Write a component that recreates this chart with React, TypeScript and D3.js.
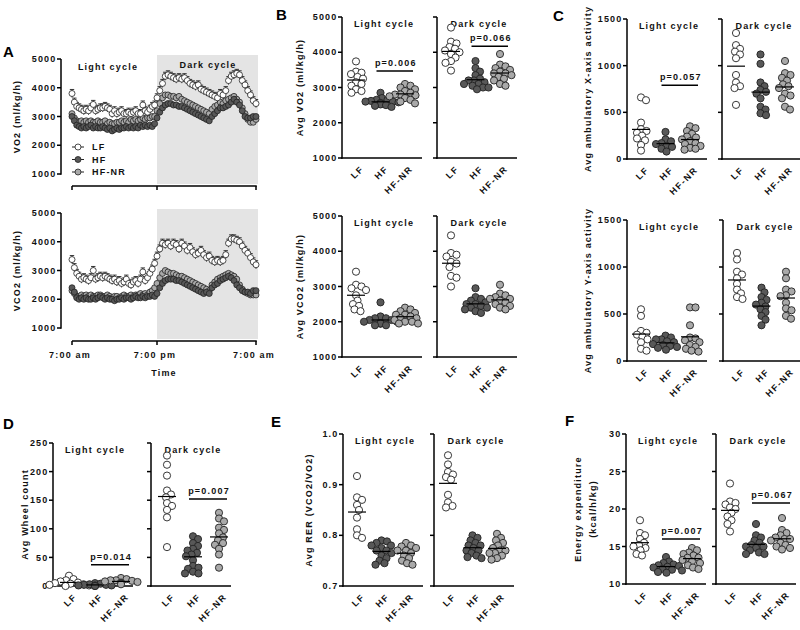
import React from "react";
import * as d3 from "d3";

const FONT = "'Liberation Sans', Arial, sans-serif";
const GROUPS = ["LF", "HF", "HF-NR"];
const FILL: Record<string, string> = { LF: "#ffffff", HF: "#585858", "HF-NR": "#a9a9a9" };
const CYCLES = ["Light cycle", "Dark cycle"];
const TIME_TICKS = ["7:00 am", "7:00 pm", "7:00 am"];
const TIME_TICK_IDX = [0, 36, 72];

// ---------- Panel A: time course (20-min bins) ----------
const VO2_TIME_LF = [3800,3500,3350,3300,3250,3200,3250,3200,3300,3420, 3200,3250,3300,3300,3350,3300,3250,3100,3200,3100, 3150,3200,3100,3100,3150,3100,3150,3200,3100,3100, 3400,3200,3150,3250,3350,3400,3650,3900,4150,4400, 4450,4400,4350,4300,4350,4300,4350,4250,4150,4100, 4050,4100,3950,3900,3850,3800,3750,3700,3650,3800, 3750,3900,4250,4400,4450,4500,4450,4250,4100,3900, 3750,3550,3450];
const VO2_TIME_HF = [3000,2850,2700,2650,2600,2650,2600,2650,2700,2600, 2650,2600,2600,2650,2600,2550,2600,2500,2550,2600, 2550,2600,2600,2650,2600,2650,2600,2650,2600,2700, 2650,2700,2650,2700,2650,2750,2950,3150,3300,3400, 3450,3450,3400,3400,3350,3350,3300,3250,3200,3150, 3100,3050,3000,2950,2900,2850,3000,3100,3200,3300, 3300,3350,3400,3500,3600,3500,3400,3200,3000,2950, 2950,3000,3000];
const VO2_TIME_HFNR = [3100,2950,2850,2800,2850,2800,2850,2800,2850,2800, 2800,2850,2800,2800,2850,2750,2800,2750,2750,2800, 2800,2850,2800,2850,2800,2900,2850,2900,2850,2900, 2950,2900,2950,2950,3000,3000,3200,3450,3650,3750, 3750,3700,3700,3650,3700,3600,3550,3500,3450,3400, 3350,3300,3250,3200,3150,3100,3250,3350,3400,3500, 3450,3550,3600,3650,3700,3600,3500,3300,3100,2900, 2800,2800,2900];
const VCO2_TIME_LF = [3380,3100,2900,2800,2700,2750,2700,2650,2750,3000, 2700,2750,2800,2750,2800,2750,2700,2650,2700,2600, 2650,2550,2600,2700,2550,2500,2600,2650,2550,2700, 2950,2650,2750,2900,3050,3250,3500,3750,3950,3900, 3950,3850,3950,3900,3750,3950,3850,3700,3800,3650, 3550,3600,3700,3550,3450,3500,3350,3300,3350,3300, 3350,3550,3950,4100,4100,4050,4000,3850,3700,3600, 3450,3300,3200];
const VCO2_TIME_HF = [2400,2250,2050,2000,2050,2000,2050,2000,2000,2050, 2000,2050,2100,2050,2000,2050,2000,2000,1950,2000, 2000,2050,2000,2050,2050,2000,2050,2100,2050,2050, 2100,2050,2100,2100,2150,2100,2200,2400,2550,2650, 2700,2700,2700,2650,2650,2600,2550,2500,2450,2400, 2350,2300,2250,2200,2250,2200,2400,2500,2550,2650, 2700,2750,2800,2750,2650,2500,2400,2300,2250,2250, 2200,2300,2300];
const VCO2_TIME_HFNR = [2300,2200,2100,2100,2150,2100,2150,2100,2150,2100, 2100,2150,2150,2100,2100,2150,2100,2050,2100,2100, 2050,2100,2150,2100,2100,2150,2100,2150,2150,2200, 2150,2200,2150,2250,2300,2400,2550,2750,2900,3000, 2950,2900,2900,2850,2800,2800,2750,2700,2650,2600, 2550,2500,2450,2400,2350,2300,2500,2600,2700,2750, 2800,2850,2900,2850,2800,2700,2500,2350,2250,2200, 2150,2150,2150];
const LF_SEM_VO2 = 140;
const LF_SEM_VCO2 = 140;

// ---------- Panels B-F: individual animals ----------
const VO2_LIGHT: Record<string, number[]> = { LF: [3740,3450,3420,3380,3300,3250,3150,3100,3050,2950,2900,2850], HF: [2850,2700,2650,2620,2600,2600,2560,2550,2520,2500,2480,2450,2650,2580], "HF-NR": [3100,3050,3000,2950,2850,2800,2780,2750,2700,2650,2600,2550,2800,2900] };
const VO2_DARK: Record<string, number[]> = { LF: [4700,4300,4250,4150,4100,4050,4000,3950,3850,3750,3700,3480], HF: [3750,3550,3450,3350,3250,3200,3150,3100,3050,3000,3000,2950,3100,3200], "HF-NR": [3950,3650,3600,3550,3500,3450,3400,3350,3300,3250,3200,3100,3050,3400] };
const VCO2_LIGHT: Record<string, number[]> = { LF: [3420,3050,3000,2950,2900,2750,2600,2500,2450,2350,2300], HF: [2550,2150,2100,2050,2000,2000,1950,1950,1900,1900,2100,2050,1950], "HF-NR": [2400,2350,2300,2250,2200,2150,2100,2050,2000,2000,1950,1950,2100,2200] };
const VCO2_DARK: Record<string, number[]> = { LF: [4450,3950,3900,3850,3700,3650,3550,3300,3250,3000], HF: [2950,2700,2650,2550,2500,2450,2400,2400,2350,2300,2250,2500,2600], "HF-NR": [3050,2800,2750,2700,2650,2600,2550,2500,2450,2400,2350,2650] };
const XACT_LIGHT: Record<string, number[]> = { LF: [660,630,390,320,300,280,250,220,200,150,90], HF: [290,210,190,170,160,140,130,110,80], "HF-NR": [350,330,300,270,240,210,190,170,160,140,120,110,100,230] };
const XACT_DARK: Record<string, number[]> = { LF: [1350,1220,1180,1150,1120,1080,900,820,780,760,580], HF: [1120,1020,820,780,740,720,700,650,560,530,490,470], "HF-NR": [1050,920,900,870,840,800,780,760,700,680,650,560,530] };
const YACT_LIGHT: Record<string, number[]> = { LF: [550,480,320,300,280,260,230,200,130,110], HF: [270,250,230,210,200,180,170,160,150,140,120,230], "HF-NR": [570,570,380,250,240,220,200,170,150,130,110,100] };
const YACT_DARK: Record<string, number[]> = { LF: [1150,1080,950,920,880,820,760,720,680,660], HF: [780,730,680,650,620,600,580,550,520,480,440,380], "HF-NR": [950,880,760,740,700,690,620,560,540,480,450] };
const WHEEL_LIGHT: Record<string, number[]> = { LF: [18,12,10,8,6,5,4,3,2,1,0], HF: [5,4,3,2,2,1,1,0,0,1], "HF-NR": [14,12,10,9,8,7,6,5,4,3,10] };
const WHEEL_DARK: Record<string, number[]> = { LF: [228,212,193,167,160,155,145,140,133,120,68], HF: [87,82,75,70,65,62,58,55,52,45,35,32,30,25,22,22], "HF-NR": [128,118,113,102,98,92,85,80,75,72,65,55,32] };
const RER_LIGHT: Record<string, number[]> = { LF: [0.917,0.875,0.87,0.86,0.85,0.835,0.812,0.8,0.795], HF: [0.79,0.788,0.785,0.78,0.775,0.77,0.765,0.76,0.755,0.75,0.745,0.742,0.78,0.77], "HF-NR": [0.785,0.78,0.778,0.775,0.77,0.765,0.76,0.755,0.75,0.745,0.742,0.77] };
const RER_DARK: Record<string, number[]> = { LF: [0.958,0.94,0.925,0.92,0.915,0.91,0.88,0.865,0.858,0.855], HF: [0.8,0.795,0.79,0.785,0.78,0.775,0.77,0.765,0.76,0.757,0.755,0.77,0.78], "HF-NR": [0.803,0.795,0.79,0.785,0.78,0.775,0.77,0.765,0.76,0.755,0.752,0.77,0.765] };
const EE_LIGHT: Record<string, number[]> = { LF: [18.5,16.8,16.5,16.0,15.5,15.2,15.0,14.8,14.5,14.0,13.8], HF: [13.6,13.0,12.8,12.6,12.4,12.3,12.2,12.0,11.9,11.8,11.6,11.5,12.5], "HF-NR": [14.8,14.5,14.0,13.8,13.5,13.2,13.0,12.8,12.5,12.2,12.0,13.5,14.2] };
const EE_DARK: Record<string, number[]> = { LF: [23.4,21.0,20.8,20.6,20.2,20.0,19.5,19.0,18.5,18.0,17.0], HF: [18.0,16.5,16.2,15.8,15.5,15.2,15.0,14.8,14.5,14.2,14.0,14.0,15.0], "HF-NR": [18.8,17.2,16.8,16.5,16.2,16.0,15.8,15.5,15.2,15.0,14.8,14.6,16.0] };

const T = (props: any) => (
  <text fontFamily={FONT} fontWeight="bold" fontSize={9} letterSpacing={1.2} fill="#111" {...props} />
);

function swarm(values: number[], y: (v: number) => number, cx: number, minD: number) {
  const placed: { x: number; y: number }[] = [];
  const sorted = [...values].sort((a, b) => b - a);
  for (const v of sorted) {
    const py = y(v);
    let off = 0;
    for (let k = 0; k < 80; k++) {
      const cand = k === 0 ? 0 : (k % 2 === 1 ? 1 : -1) * Math.ceil(k / 2) * 0.5;
      const ok = placed.every((p) => (p.x - (cx + cand)) ** 2 + (p.y - py) ** 2 >= minD * minD);
      if (ok) { off = cand; break; }
    }
    placed.push({ x: cx + off, y: py });
  }
  return placed;
}

type PSpec = { text: string; v: number } | null;
type PanelCfg = {
  light: number; dark: number; yTop: number; yBot: number;
  domain: [number, number]; ticks: number[]; fmt: (v: number) => string;
  data: [Record<string, number[]>, Record<string, number[]>];
  p?: [PSpec, PSpec];
  label: string[]; labelX: number[];
  letter?: { t: string; x: number; y: number };
  cat?: [number, number];
};

const fmtInt = d3.format("d");
const PANELS: PanelCfg[] = [
  { light: 342, dark: 437, yTop: 17, yBot: 158, domain: [1000, 5000], ticks: [1000, 2000, 3000, 4000, 5000], fmt: fmtInt,
    data: [VO2_LIGHT, VO2_DARK], p: [{ text: "p=0.006", v: 3470 }, { text: "p=0.066", v: 4170 }],
    label: ["Avg VO2 (ml/kg/h)"], labelX: [303], letter: { t: "B", x: 276, y: 20 } },
  { light: 342, dark: 437, yTop: 216, yBot: 357, domain: [1000, 5000], ticks: [1000, 2000, 3000, 4000, 5000], fmt: fmtInt,
    data: [VCO2_LIGHT, VCO2_DARK], label: ["Avg VCO2 (ml/kg/h)"], labelX: [303] },
  { light: 627, dark: 722, yTop: 19, yBot: 159, domain: [0, 1500], ticks: [0, 500, 1000, 1500], fmt: fmtInt,
    data: [XACT_LIGHT, XACT_DARK], p: [{ text: "p=0.057", v: 790 }, null],
    label: ["Avg ambulatory X-axis activity"], labelX: [591], letter: { t: "C", x: 553, y: 21 } },
  { light: 627, dark: 723, yTop: 220, yBot: 361, domain: [0, 1500], ticks: [0, 500, 1000, 1500], fmt: fmtInt,
    data: [YACT_LIGHT, YACT_DARK], label: ["Avg ambulatory Y-axis activity"], labelX: [591] },
  { light: 53, dark: 151, yTop: 443, yBot: 586, domain: [0, 250], ticks: [0, 50, 100, 150, 200, 250], fmt: fmtInt,
    data: [WHEEL_LIGHT, WHEEL_DARK], p: [{ text: "p=0.014", v: 37 }, { text: "p=0.007", v: 152 }],
    label: ["Avg Wheel count"], labelX: [28], letter: { t: "D", x: 3, y: 429 }, cat: [16, 68] },
  { light: 343, dark: 434, yTop: 434, yBot: 586, domain: [0.7, 1.0], ticks: [0.7, 0.8, 0.9, 1.0], fmt: d3.format(".1f"),
    data: [RER_LIGHT, RER_DARK], label: ["Avg RER (VCO2/VO2)"], labelX: [312], letter: { t: "E", x: 271, y: 427 } },
  { light: 626, dark: 716, yTop: 434, yBot: 584, domain: [10, 30], ticks: [10, 15, 20, 25, 30], fmt: fmtInt,
    data: [EE_LIGHT, EE_DARK], p: [{ text: "p=0.007", v: 16.0 }, { text: "p=0.067", v: 20.8 }],
    label: ["Energy expenditure", "(kcal/h/kg)"], labelX: [581, 596], letter: { t: "F", x: 565, y: 426 }, cat: [14, 66] },
];

function ScatterPanel({ cfg }: { cfg: PanelCfg }) {
  const y = d3.scaleLinear().domain(cfg.domain).range([cfg.yBot, cfg.yTop]);
  const [c0, c1] = cfg.cat ?? [14, 63];
  const baseY = cfg.yBot;
  const subs = [
    { ax: cfg.light, data: cfg.data[0], p: cfg.p ? cfg.p[0] : null, title: CYCLES[0], labels: true },
    { ax: cfg.dark, data: cfg.data[1], p: cfg.p ? cfg.p[1] : null, title: CYCLES[1], labels: false },
  ];
  const midY = (cfg.yTop + cfg.yBot) / 2;
  return (
    <g>
      {subs.map((s, si) => {
        const x = d3.scalePoint<string>().domain(GROUPS).range([s.ax + c0, s.ax + c1]);
        return (
          <g key={si}>
            <line x1={s.ax} x2={s.ax} y1={y(cfg.domain[1])} y2={baseY + 0.75} stroke="#000" strokeWidth={1.5} />
            {cfg.ticks.map((t) => (
              <g key={t}>
                <line x1={s.ax - 4} x2={s.ax} y1={y(t)} y2={y(t)} stroke="#000" strokeWidth={1.5} />
                {s.labels && (
                  <T x={s.ax - 4.5} y={y(t)} dy="0.35em" textAnchor="end">{cfg.fmt(t)}</T>
                )}
              </g>
            ))}
            <line x1={s.ax - 0.75} x2={s.ax + 80} y1={baseY} y2={baseY} stroke="#000" strokeWidth={1.5} />
            <T x={s.ax + 42} y={cfg.yTop + 10} textAnchor="middle">{s.title}</T>
            {GROUPS.map((g) => {
              const cx = x(g) as number;
              const pts = swarm(s.data[g], y, cx, 5.4);
              const m = d3.mean(s.data[g]) as number;
              return (
                <g key={g}>
                  {pts.map((p, i) => (
                    <circle key={i} cx={p.x} cy={p.y} r={3.6} fill={FILL[g]} stroke="#222" strokeWidth={0.9} />
                  ))}
                  <line x1={cx - 9} x2={cx + 9} y1={y(m)} y2={y(m)} stroke="#000" strokeWidth={1.2} />
                </g>
              );
            })}
            {s.p && (
              <g>
                <line x1={(x("HF") as number) - 4} x2={(x("HF-NR") as number) + 8} y1={y(s.p.v)} y2={y(s.p.v)} stroke="#000" strokeWidth={1.5} />
                <T x={((x("HF") as number) + (x("HF-NR") as number)) / 2 + 3} y={y(s.p.v) - 5} textAnchor="middle">{s.p.text}</T>
              </g>
            )}
            {GROUPS.map((g) => (
              <g key={"l" + g} transform={`translate(${(x(g) as number) + 4},${baseY + 7})`}>
                <g transform="rotate(-45)">
                  <T x={0} y={0} textAnchor="end" dy="0.7em" letterSpacing={1.5}>{g}</T>
                </g>
              </g>
            ))}
          </g>
        );
      })}
      {cfg.label.map((l, i) => (
        <T key={i} transform={`translate(${cfg.labelX[i]},${midY}) rotate(-90)`} textAnchor="middle">{l}</T>
      ))}
      {cfg.letter && (
        <text x={cfg.letter.x} y={cfg.letter.y} fontFamily={FONT} fontWeight="bold" fontSize={15} fill="#000">{cfg.letter.t}</text>
      )}
    </g>
  );
}

type TimeCfg = {
  yTop: number; yBot: number; axisY: number;
  lf: number[]; hf: number[]; hfnr: number[]; sem: number;
  label: string; top: boolean;
};

function TimePanel({ cfg }: { cfg: TimeCfg }) {
  // light phase (7am-7pm) and dark phase (7pm-7am) each 36 bins
  const x = d3.scaleLinear().domain([0, 36, 72]).range([72, 157, 256]);
  const y = d3.scaleLinear().domain([1000, 5000]).range([cfg.yBot, cfg.yTop]);
  const ticks = [1000, 2000, 3000, 4000, 5000];
  const ax = 61;
  const series = [
    { g: "HF-NR", v: cfg.hfnr },
    { g: "HF", v: cfg.hf },
  ];
  return (
    <g>
      <rect x={x(36)} y={cfg.yTop - 4} width={x(72) - x(36) + 2} height={cfg.axisY - cfg.yTop + 2} fill="#e4e4e4" />
      <line x1={ax} x2={ax} y1={cfg.yTop} y2={cfg.yBot + 0.75} stroke="#000" strokeWidth={1.5} />
      {ticks.map((t) => (
        <g key={t}>
          <line x1={ax - 4} x2={ax} y1={y(t)} y2={y(t)} stroke="#000" strokeWidth={1.5} />
          <T x={ax - 4.5} y={y(t)} dy="0.35em" textAnchor="end">{t}</T>
        </g>
      ))}
      <line x1={x(0)} x2={x(72) + 0.75} y1={cfg.axisY} y2={cfg.axisY} stroke="#000" strokeWidth={1.5} />
      {TIME_TICK_IDX.map((ti, i) => (
        <g key={i}>
          <line x1={x(ti)} x2={x(ti)} y1={cfg.axisY} y2={cfg.axisY + 4} stroke="#000" strokeWidth={1.5} />
          {!cfg.top && <T x={x(ti) - 2} y={cfg.axisY + 17} textAnchor="middle">{TIME_TICKS[i]}</T>}
        </g>
      ))}
      {!cfg.top && <T x={(x(0) + x(72)) / 2} y={cfg.axisY + 35} textAnchor="middle">Time</T>}
      {series.map((s) => (
        <g key={s.g}>
          {s.v.map((v, i) => (
            <circle key={i} cx={x(i)} cy={y(v)} r={3} fill={FILL[s.g]} stroke="#222" strokeWidth={0.8} />
          ))}
        </g>
      ))}
      <g>
        {cfg.lf.map((v, i) => (
          <g key={i}>
            <line x1={x(i)} x2={x(i)} y1={y(v - cfg.sem)} y2={y(v + cfg.sem)} stroke="#222" strokeWidth={0.9} />
            <line x1={x(i) - 2.2} x2={x(i) + 2.2} y1={y(v + cfg.sem)} y2={y(v + cfg.sem)} stroke="#222" strokeWidth={0.9} />
          </g>
        ))}
        {cfg.lf.map((v, i) => (
          <circle key={"c" + i} cx={x(i)} cy={y(v)} r={3} fill={FILL.LF} stroke="#222" strokeWidth={0.8} />
        ))}
      </g>
      <T transform={`translate(20,${(cfg.yTop + cfg.yBot) / 2})rotate(-90)`} textAnchor="middle">{cfg.label}</T>
      {cfg.top && (
        <g>
          <T x={108} y={70} textAnchor="middle">{CYCLES[0]}</T>
          <T x={208} y={68} textAnchor="middle">{CYCLES[1]}</T>
          {GROUPS.map((g, i) => (
            <g key={g}>
              <line x1={72} x2={84} y1={147 + i * 12.5} y2={147 + i * 12.5} stroke="#222" strokeWidth={1} />
              <circle cx={78} cy={147 + i * 12.5} r={3} fill={FILL[g]} stroke="#222" strokeWidth={0.8} />
              <T x={92} y={147 + i * 12.5} dy="0.35em">{g}</T>
            </g>
          ))}
          <text x={3} y={57} fontFamily={FONT} fontWeight="bold" fontSize={15} fill="#000">A</text>
        </g>
      )}
    </g>
  );
}

const TIME_PANELS: TimeCfg[] = [
  { yTop: 59, yBot: 174, axisY: 186, lf: VO2_TIME_LF, hf: VO2_TIME_HF, hfnr: VO2_TIME_HFNR, sem: LF_SEM_VO2, label: "VO2 (ml/kg/h)", top: true },
  { yTop: 213, yBot: 328, axisY: 341, lf: VCO2_TIME_LF, hf: VCO2_TIME_HF, hfnr: VCO2_TIME_HFNR, sem: LF_SEM_VCO2, label: "VCO2 (ml/kg/h)", top: false },
];

export default function App() {
  return (
    <svg width={800} height={630} style={{ position: "absolute", left: 0, top: 0, background: "#fff" }}>
      <rect width={800} height={630} fill="#fff" />
      {TIME_PANELS.map((c, i) => <TimePanel key={i} cfg={c} />)}
      {PANELS.map((c, i) => <ScatterPanel key={i} cfg={c} />)}
    </svg>
  );
}
